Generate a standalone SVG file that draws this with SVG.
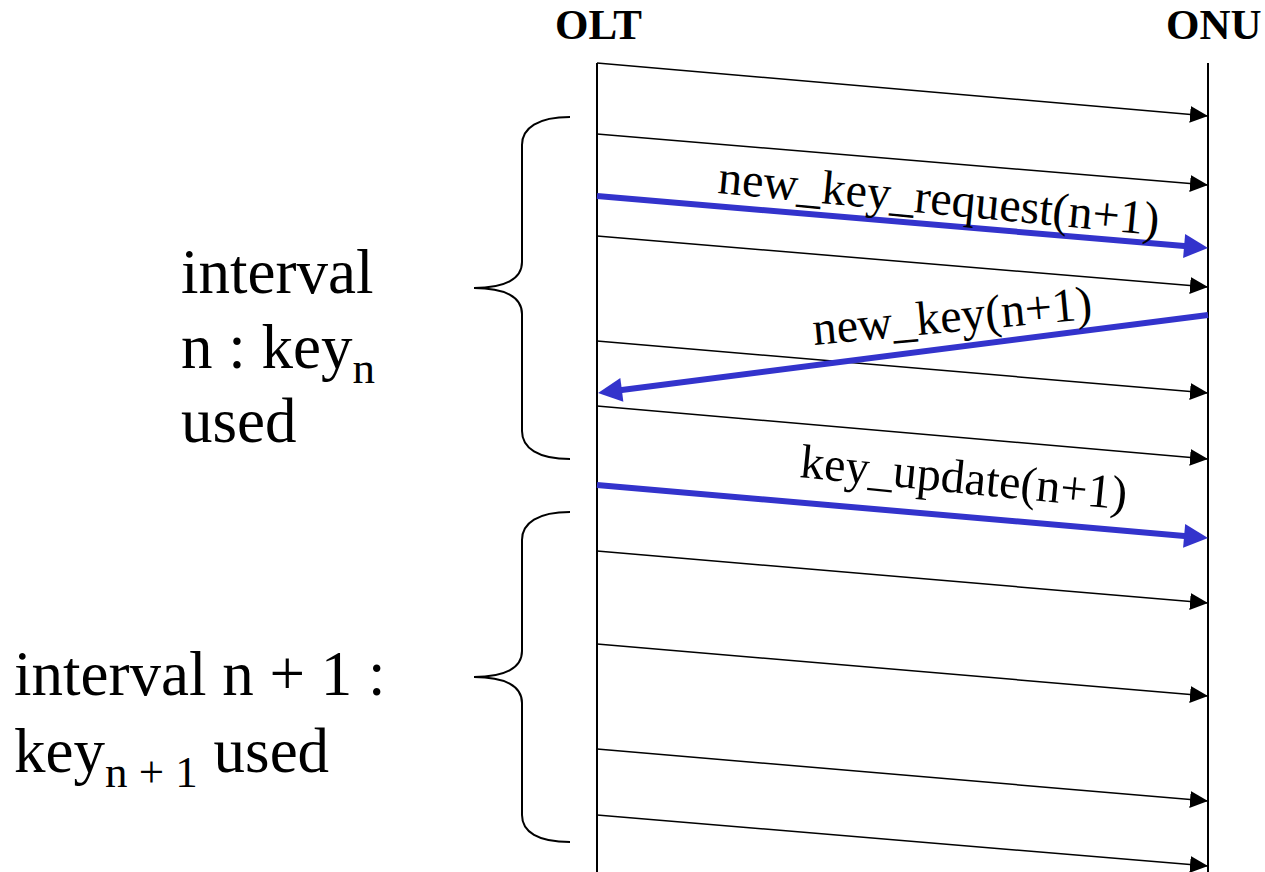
<svg xmlns="http://www.w3.org/2000/svg" width="1265" height="872" viewBox="0 0 1265 872">
  <style>
    .head { font-family: "Liberation Serif", "Times New Roman", serif; font-weight: bold; font-size: 43px; fill: #000; }
    .side { font-family: "Liberation Serif", "Times New Roman", serif; font-size: 63px; fill: #000; }
    .sub { font-size: 45px; }
    .lbl { font-family: "Liberation Serif", "Times New Roman", serif; font-size: 48px; fill: #000; }
    .life { stroke: #000; stroke-width: 2; fill: none; }
    .msg { stroke: #000; stroke-width: 1.5; fill: none; marker-end: url(#arrBlack); }
    .key { stroke: #3333CC; stroke-width: 6; fill: none; marker-end: url(#arrBlue); }
    .brace { stroke: #000; stroke-width: 2; fill: none; }
  </style>
  <defs>
    <marker id="arrBlack" markerUnits="userSpaceOnUse" markerWidth="18" markerHeight="18" viewBox="0 -8 16 16" refX="16" refY="0" orient="auto">
      <path d="M0,-7.5 L16,0 L0,7.5 z" fill="#000"/>
    </marker>
    <marker id="arrBlue" markerUnits="userSpaceOnUse" markerWidth="26" markerHeight="26" viewBox="0 -13 24 26" refX="6" refY="0" orient="auto">
      <path d="M0,-12 L24,0 L0,12 z" fill="#3333CC"/>
    </marker>
  </defs>

  <!-- lifeline headings and lifelines -->
  <g id="olt">
    <text class="head" x="555" y="39">OLT</text>
    <line class="life" x1="597" y1="63" x2="597" y2="872"/>
  </g>
  <g id="onu">
    <text class="head" x="1166" y="39">ONU</text>
    <line class="life" x1="1208" y1="63" x2="1208" y2="872"/>
  </g>

  <!-- interval braces and captions -->
  <g id="interval-n">
    <path class="brace" d="M570,117 C538,117 522,128 522,145 L522,262 C522,279 505,288 474,288 C505,288 522,297 522,314 L522,431 C522,448 538,459 570,459"/>
    <text class="side" x="181" y="293">interval</text>
    <text class="side" x="181" y="368">n : key<tspan class="sub" dy="15">n</tspan></text>
    <text class="side" x="181" y="442">used</text>
  </g>
  <g id="interval-n1">
    <path class="brace" d="M570,512 C538,512 522,523 522,540 L522,651 C522,668 505,677 474,677 C505,677 522,686 522,703 L522,815 C522,832 538,842 570,842"/>
    <text class="side" x="14" y="695">interval n + 1 :</text>
    <text class="side" x="14" y="772">key<tspan class="sub" dy="15">n + 1</tspan><tspan dy="-15"> used</tspan></text>
  </g>

  <!-- connectors -->
  <g id="connectors">
    <line class="msg" x1="597" y1="63" x2="1208" y2="116"/>
    <line class="msg" x1="597" y1="134" x2="1208" y2="185"/>
    <line class="msg" x1="597" y1="236" x2="1208" y2="287"/>
    <line class="msg" x1="597" y1="341" x2="1208" y2="393"/>
    <line class="msg" x1="597" y1="406" x2="1208" y2="459"/>
    <line class="msg" x1="597" y1="551" x2="1208" y2="603"/>
    <line class="msg" x1="597" y1="644" x2="1208" y2="696"/>
    <line class="msg" x1="597" y1="749" x2="1208" y2="801"/>
    <line class="msg" x1="597" y1="815" x2="1208" y2="866"/>

    <line class="key" x1="597" y1="196" x2="1190.1" y2="246.5"/>
    <line class="key" x1="1208" y1="315" x2="615.9" y2="390.7"/>
    <line class="key" x1="597" y1="485" x2="1190.1" y2="536.4"/>
  </g>

  <!-- key exchange labels -->
  <g id="labels">
    <text class="lbl" x="717" y="193" transform="rotate(5.5 717 193)">new_key_request(n+1)</text>
    <text class="lbl" x="814" y="345" transform="rotate(-5.4 814 345)">new_key(n+1)</text>
    <text class="lbl" x="799" y="477" transform="rotate(5.7 799 477)">key_update(n+1)</text>
  </g>
</svg>
